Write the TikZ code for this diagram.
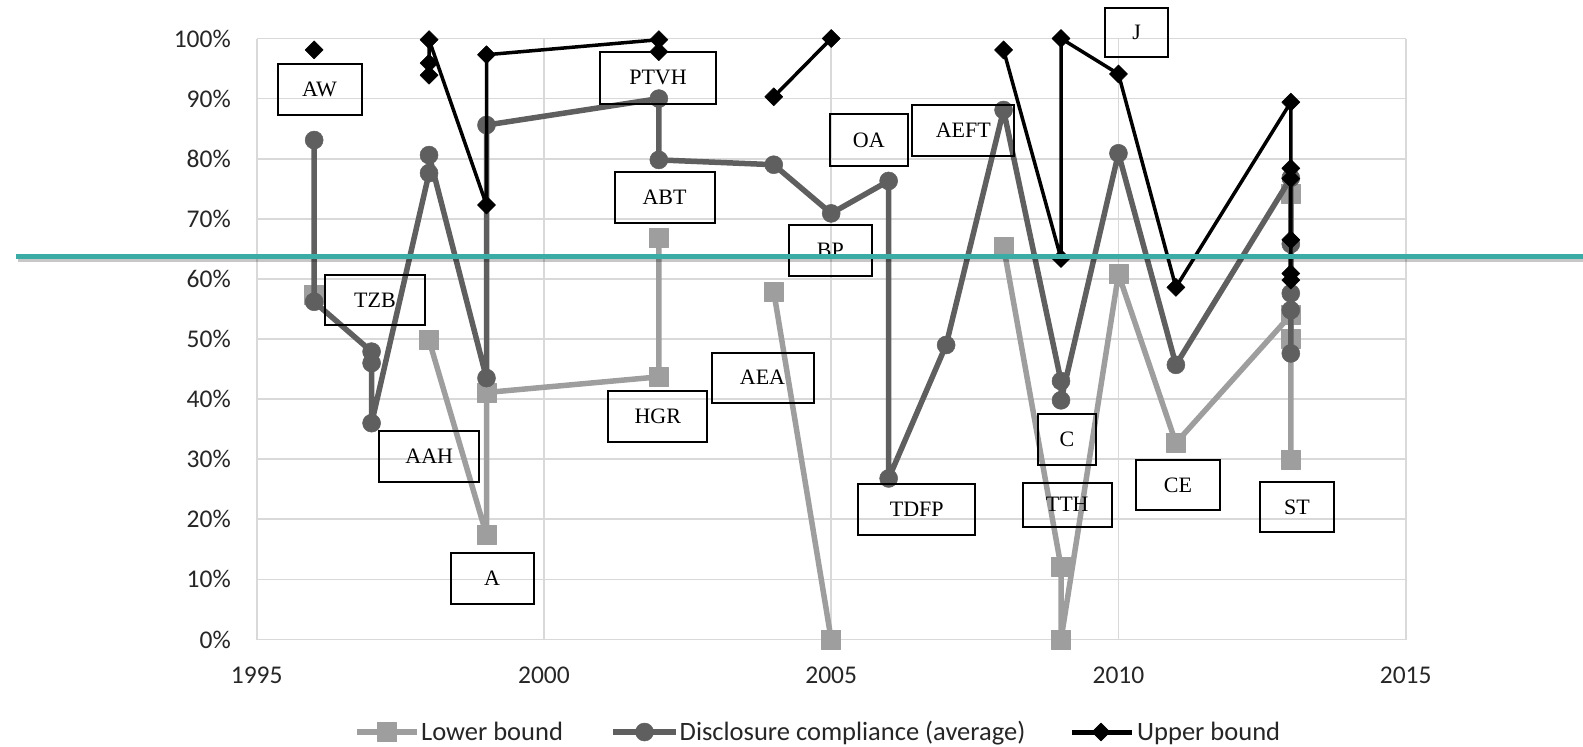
\documentclass[tikz,border=0pt]{standalone}
\usepackage{fontspec}
\usetikzlibrary{plotmarks}
\setmainfont{Liberation Serif}
\newfontfamily\chartfont{Carlito}
\definecolor{lowgray}{HTML}{9E9E9E}
\definecolor{avggray}{HTML}{5F5F5F}
\definecolor{gridgray}{HTML}{D9D9D9}
\definecolor{tealbar}{HTML}{3AABA5}
\begin{document}
\begin{tikzpicture}[x=1pt, y=-1pt,
  lbl/.style={draw=black, line width=2pt, inner sep=0pt, font=\fontsize{22}{24}\selectfont},
  tick/.style={font=\chartfont\fontsize{25.5}{28}\selectfont, text=black!85, inner sep=0pt},
  legtxt/.style={font=\chartfont\fontsize{26.5}{30}\selectfont, text=black!85, inner sep=0pt, anchor=base west},
  grid/.style={gridgray, line width=1.7pt},
  lowline/.style={lowgray, line width=5.5pt, line join=round, mark=square*, mark size=9.5pt, mark options={line width=0.5pt}},
  avgline/.style={avggray, line width=5.5pt, line join=round, mark=*, mark size=9pt, mark options={line width=0.5pt}},
  upline/.style={black, line width=3.5pt, line join=round, mark=square*, mark size=6.4pt, mark options={rotate=45, line width=0.5pt}}]
\useasboundingbox (0, 0) rectangle (1583, 747);

\begin{scope}[shift={(256.7, 639.5)}, x=57.45pt, y=6.01pt]
\foreach \p in {0,10,...,100} {
  \draw[grid] (0, \p) -- (20, \p);
  \node (y\p) at (0, \p) [tick, anchor=east, xshift=-25.7pt] {\p\%};
}
\foreach \yr [evaluate=\yr as \lab using int(1995+\yr)] in {0,5,...,20} {
  \draw[grid] (\yr, 0) -- (\yr, 100);
  \node (x\lab) at (\yr, 0) [tick, anchor=base, yshift=-43.8pt] {\lab};
}

\draw[lowline] plot coordinates {(1, 57.3)};
\draw[lowline] plot coordinates {(3, 49.8) (4, 17.4) (4, 41.1) (7, 43.7) (7, 66.8)};
\draw[lowline] plot coordinates {(9, 57.9) (10, 0)};
\draw[lowline] plot coordinates {(13, 65.4) (14, 12.1) (14, 0) (15, 60.8) (16, 32.7) (18, 54) (18, 74.2) (18, 50.1) (18, 29.9)};

\draw[avgline] plot coordinates {(1, 83.1) (1, 56.2) (2, 47.9) (2, 46) (2, 36) (3, 77.6) (3, 80.6) (4, 43.5) (4, 85.6)
  (7, 90) (7, 79.8) (9, 79) (10, 70.9) (11, 76.3) (11, 26.8) (12, 49) (13, 88.1) (14, 43) (14, 39.8)
  (15, 80.9) (16, 45.7) (18, 76.8) (18, 65.8) (18, 57.6) (18, 54.8) (18, 47.6)};

\draw[upline] plot coordinates {(1, 98.1)};
\draw[upline] plot coordinates {(3, 93.9) (3, 95.9) (3, 99.8) (4, 72.3) (4, 97.3) (7, 99.8) (7, 97.8)};
\draw[upline] plot coordinates {(9, 90.3) (10, 100)};
\draw[upline] plot coordinates {(13, 98.1) (14, 63.4) (14, 100) (15, 94.1) (16, 58.6) (18, 89.4) (18, 78.4) (18, 76.7) (18, 66.5) (18, 60.9) (18, 59.8)};
\end{scope}

\node (aw) at (319.5, 89.7) [lbl, minimum width=84pt, minimum height=51pt] {AW};
\node (tzb) at (375, 300) [lbl, minimum width=100pt, minimum height=50pt] {TZB};
\node (aah) at (429.3, 456.3) [lbl, minimum width=100pt, minimum height=51pt] {AAH};
\node (a) at (492, 578) [lbl, minimum width=83pt, minimum height=51pt] {A};
\node (ptvh) at (658, 77.8) [lbl, minimum width=116pt, minimum height=52pt] {PTVH};
\node (abt) at (664.5, 197) [lbl, minimum width=100pt, minimum height=51pt] {ABT};
\node (hgr) at (657.8, 416.3) [lbl, minimum width=99pt, minimum height=51pt] {HGR};
\node (aea) at (762.5, 377.7) [lbl, minimum width=102pt, minimum height=50pt] {AEA};
\node (bp) at (830.3, 250.5) [lbl, minimum width=83pt, minimum height=51pt] {BP};
\node (oa) at (868.8, 140) [lbl, minimum width=78pt, minimum height=52pt] {OA};
\node (aeft) at (963.3, 130) [lbl, minimum width=102pt, minimum height=51pt] {AEFT};
\node (tdfp) at (916.7, 509.7) [lbl, minimum width=117pt, minimum height=51pt] {TDFP};
\node (j) at (1136.7, 32.8) [lbl, minimum width=63pt, minimum height=49pt] {J};
\node (c) at (1067, 439) [lbl, minimum width=58pt, minimum height=51pt] {C};
\node (tth) at (1067.2, 504.5) [lbl, minimum width=89pt, minimum height=44pt] {TTH};
\node (ce) at (1177.9, 485) [lbl, minimum width=84pt, minimum height=50pt] {CE};
\node (st) at (1297, 507.3) [lbl, minimum width=74pt, minimum height=50pt] {ST};

\draw[lowline] (357, 732) -- (417, 732);
\draw[lowline] plot coordinates {(387, 732)};
\node (lowleg) at (421, 740.5) [legtxt] {Lower bound};
\draw[avgline] (613, 732) -- (676, 732);
\draw[avgline] plot coordinates {(644.5, 732)};
\node (avgleg) at (679.5, 740.5) [legtxt] {Disclosure compliance (average)};
\draw[upline, line width=5pt] (1072, 732) -- (1132, 732);
\draw[upline] plot coordinates {(1101, 732)};
\node (upleg) at (1137, 740.5) [legtxt] {Upper bound};

\draw[black, opacity=0.22, line width=4pt] (18, 259.8) -- (1583, 259.8);
\draw[tealbar, line width=4.7pt] (16, 256.7) -- (1583, 256.7);
\end{tikzpicture}
\end{document}
